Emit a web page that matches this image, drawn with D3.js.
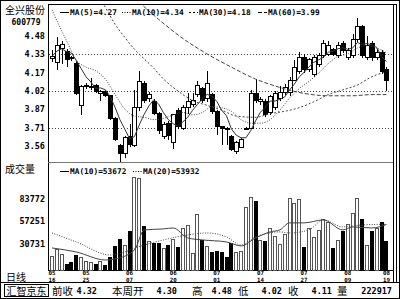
<!DOCTYPE html>
<html>
<head>
<meta charset="utf-8">
<style>
body { margin: 0; background: #fff; }
svg text { font-family: "DejaVu Sans Mono", monospace; font-weight: bold; fill: #000; }
svg text.cjk { font-family: "Noto Sans CJK SC", sans-serif; font-weight: normal; }
</style>
</head>
<body>
<svg width="400" height="299"></svg>
<script src="https://d3js.org/d3.v7.min.js"></script>
<script>
// trading days shown (2005)
var dates = ["05-16","05-17","05-18","05-19","05-20","05-23","05-24","05-25","05-26","05-27","05-30","05-31",
  "06-01","06-02","06-03","06-06","06-07","06-08","06-09","06-10","06-13","06-14","06-15","06-16","06-17",
  "06-20","06-21","06-22","06-23","06-24","06-27","06-28","06-29","06-30",
  "07-01","07-04","07-05","07-06","07-07","07-08","07-11","07-12","07-13","07-14","07-15","07-18","07-19",
  "07-20","07-21","07-22","07-25","07-26","07-27","07-28","07-29",
  "08-01","08-02","08-03","08-04","08-05","08-08","08-09","08-10","08-11","08-12","08-15","08-16","08-17","08-18","08-19"];
var tickDates = ["05-16","05-25","06-07","06-20","07-01","07-14","07-27","08-09","08-19"];

var opens = [4.29,4.26,4.38,4.35,4.30,4.25,3.90,4.06,4.05,4.07,4.00,4.02,3.98,3.79,3.56,3.50,3.64,3.56,3.88,4.08,
  3.96,3.93,3.83,3.64,3.75,3.59,3.86,3.71,3.88,3.91,3.99,4.04,3.96,3.99,3.85,3.72,3.71,3.64,3.51,3.55,
  3.70,3.71,4.00,3.93,3.93,3.84,3.88,3.96,4.01,4.01,4.11,4.18,4.30,4.20,4.16,4.24,4.32,4.33,4.37,4.32,
  4.42,4.30,4.32,4.45,4.56,4.30,4.42,4.30,4.34,4.20];
var highs = [4.36,4.47,4.44,4.37,4.31,4.27,4.07,4.09,4.13,4.08,4.03,4.03,3.99,3.80,3.58,3.64,3.74,4.03,4.19,4.10,
  4.01,3.95,3.84,3.76,3.77,3.83,3.88,3.90,4.00,4.00,4.10,4.05,4.19,4.00,3.86,3.73,3.72,3.65,3.60,3.63,
  3.72,4.03,4.12,3.97,3.95,3.99,4.02,4.06,4.08,4.14,4.28,4.35,4.33,4.30,4.32,4.34,4.45,4.44,4.38,4.43,
  4.44,4.38,4.50,4.63,4.57,4.48,4.44,4.37,4.36,4.22];
var lows = [4.26,4.20,4.25,4.22,4.27,3.99,3.82,4.04,4.03,4.00,3.94,3.97,3.78,3.60,3.42,3.46,3.55,3.55,3.85,3.92,
  3.93,3.82,3.66,3.62,3.61,3.53,3.70,3.69,3.83,3.89,3.97,3.92,3.93,3.83,3.65,3.57,3.57,3.52,3.49,3.54,
  3.69,3.70,3.92,3.90,3.80,3.82,3.86,3.94,3.99,3.98,4.10,4.16,4.17,4.18,4.14,4.22,4.30,4.31,4.31,4.30,
  4.34,4.28,4.30,4.43,4.30,4.28,4.27,4.28,4.16,4.02];
var closes = [4.31,4.40,4.41,4.28,4.29,4.00,4.06,4.07,4.06,4.02,4.02,3.98,3.79,3.61,3.50,3.63,3.57,3.88,4.10,3.94,
  3.99,3.83,3.69,3.74,3.65,3.82,3.72,3.88,3.93,3.94,4.07,3.94,4.08,3.85,3.72,3.71,3.70,3.53,3.59,3.61,
  3.71,4.00,3.94,3.95,3.82,3.97,4.00,4.01,4.05,4.11,4.22,4.30,4.20,4.28,4.30,4.32,4.42,4.40,4.33,4.40,
  4.36,4.36,4.45,4.56,4.32,4.40,4.30,4.34,4.18,4.11];
var volumes = [16500,24800,18900,7100,9500,17700,15400,10600,9500,7100,10600,5900,15400,28400,36600,29500,46100,110000,108700,52000,
  34300,31900,31900,26000,29500,36600,27200,49600,53200,20100,66200,35500,28400,21300,22500,21300,15400,31900,21300,22500,
  74500,86300,81600,35500,34300,49600,40000,30700,42500,85100,79200,83900,27200,49600,39000,47300,60300,56700,26000,35500,
  46100,54400,67400,85100,60300,29500,46100,49600,56700,34300];

// moving-average lines: [bar index, value]
var ma10Pts = [[0,4.70],[1,4.61],[3,4.44],[5,4.28],[7,4.22],[9,4.19],[11,4.12],[13,3.99],[15,3.87],[17,3.81],[19,3.80],
  [21,3.78],[23,3.79],[25,3.82],[27,3.84],[29,3.82],[31,3.84],[33,3.89],[35,3.88],[37,3.85],[39,3.78],[41,3.75],
  [43,3.75],[45,3.78],[47,3.86],[49,3.96],[51,4.04],[53,4.10],[55,4.17],[57,4.25],[59,4.31],[61,4.33],[63,4.38],
  [65,4.40],[67,4.38],[69,4.34]];
var ma30Pts = [[9,4.85],[11,4.72],[13,4.58],[15,4.47],[17,4.37],[19,4.29],[21,4.21],[23,4.12],[25,4.05],[27,3.99],
  [29,3.94],[32,3.90],[35,3.86],[38,3.81],[42,3.80],[45,3.83],[48,3.85],[51,3.88],[54,3.93],[57,3.99],[60,4.03],
  [63,4.07],[66,4.14],[69,4.18]];
var ma60Pts = [[17,4.80],[22,4.62],[27,4.46],[32,4.33],[37,4.22],[42,4.12],[47,4.05],[52,4.00],[57,3.98],[62,3.98],
  [66,3.99],[69,3.99]];
var volMa10Pts = [[0,26000],[5,21300],[11,11800],[13,13000],[17,23600],[19,47300],[23,48500],[25,49600],[28,37800],
  [31,35500],[36,33100],[39,28400],[42,37800],[45,44900],[47,47300],[49,55600],[52,55600],[56,59100],[60,47300],
  [62,50800],[66,49600],[69,53672]];
var volMa20Pts = [[0,43700],[5,33100],[12,17700],[19,29500],[23,35500],[28,41400],[32,43700],[36,39000],[39,29500],
  [42,39000],[47,44900],[49,43700],[53,47300],[56,59100],[60,50800],[64,53200],[69,53932]];

var priceTicks = [4.48,4.33,4.17,4.02,3.87,3.71,3.56];
var priceGrid = [4.33,4.02,3.71];
var volTicks = [83772,57251,30731];

var maLegend = [["MA(5)=4.27","none"],["MA(10)=4.34","1,1.5"],["MA(30)=4.18","2,2"],["MA(60)=3.99","4,2"]];
var volLegend = [["MA(10)=53672","none"],["MA(20)=53932","1,1.5"]];
var footer = [["前收","4.32"],["本周开","4.30"],["高","4.48"],["低","4.02"],["收","4.11"],["量","222917"]];

var svg = d3.select("svg");
var L = 48, R = 393, PT = 4, PB = 162, VB = 270;

var x = d3.scaleBand().domain(dates).range([49, 389.5]).padding(0.25);
var cx = function(i) { return x(dates[i]) + x.bandwidth() / 2; };
var yP = d3.scaleLinear().domain([3.71, 4.33]).range([128, 54]);
var yV = d3.scaleLinear().domain([0, 83772]).range([VB, 199]);

svg.append("defs").append("clipPath").attr("id", "pclip")
  .append("rect").attr("x", L + 1).attr("y", PT + 1).attr("width", R - L - 1).attr("height", PB - PT - 1);

// frame
var frame = svg.append("g").attr("fill", "none").attr("stroke", "#000").attr("shape-rendering", "crispEdges");
frame.append("rect").attr("x", 0.5).attr("y", 0.5).attr("width", 399).attr("height", 298);
frame.append("line").attr("x1", L + 0.5).attr("x2", L + 0.5).attr("y1", PT).attr("y2", VB);
frame.append("line").attr("x1", L).attr("x2", R + 3).attr("y1", PT + 0.5).attr("y2", PT + 0.5);
frame.append("line").attr("x1", L).attr("x2", R).attr("y1", PB + 0.5).attr("y2", PB + 0.5).attr("stroke", "#777");
frame.append("line").attr("x1", R + 0.5).attr("x2", R + 0.5).attr("y1", PT).attr("y2", 282);
frame.append("line").attr("x1", R + 3.5).attr("x2", R + 3.5).attr("y1", PT).attr("y2", 282);
frame.append("line").attr("x1", L).attr("x2", R).attr("y1", VB + 0.5).attr("y2", VB + 0.5);
frame.append("line").attr("x1", 0).attr("x2", 400).attr("y1", 282.5).attr("y2", 282.5);

// price grid + labels
svg.append("g").selectAll("line").data(priceGrid).join("line")
  .attr("x1", L + 1).attr("x2", R).attr("y1", d => Math.round(yP(d)) + 0.5).attr("y2", d => Math.round(yP(d)) + 0.5)
  .attr("stroke", "#444").attr("stroke-dasharray", "1,2");
svg.append("g").selectAll("text").data(priceTicks).join("text")
  .attr("x", 45).attr("y", d => yP(d) + 3).attr("text-anchor", "end").attr("font-size", 8.5)
  .text(d => d.toFixed(2));

// candles
var pc = svg.append("g").attr("clip-path", "url(#pclip)").attr("shape-rendering", "crispEdges");
var idx = d3.range(dates.length);
pc.selectAll("line.wick").data(idx).join("line").attr("class", "wick")
  .attr("x1", i => Math.round(cx(i)) + 0.5).attr("x2", i => Math.round(cx(i)) + 0.5)
  .attr("y1", i => yP(highs[i])).attr("y2", i => yP(lows[i])).attr("stroke", "#000");
pc.selectAll("rect").data(idx).join("rect")
  .attr("x", i => Math.round(cx(i)) - 1.5).attr("width", 4)
  .attr("y", i => yP(Math.max(opens[i], closes[i])))
  .attr("height", i => Math.max(1, Math.abs(yP(opens[i]) - yP(closes[i]))))
  .attr("fill", i => closes[i] >= opens[i] ? "#fff" : "#000")
  .attr("stroke", "#000");

// price MA lines
var ma5 = idx.map(i => d3.mean(closes.slice(Math.max(0, i - 4), i + 1)));
var pl = svg.append("g").attr("clip-path", "url(#pclip)").attr("fill", "none");
var lineP = d3.line().x(d => cx(d[0])).y(d => yP(d[1])).curve(d3.curveMonotoneX);
pl.append("path").attr("d", d3.line().x((d, i) => cx(i)).y(d => yP(d))(ma5)).attr("stroke", "#333");
pl.append("path").attr("d", lineP(ma10Pts)).attr("stroke", "#444").attr("stroke-dasharray", "1,1.5");
pl.append("path").attr("d", lineP(ma30Pts)).attr("stroke", "#444").attr("stroke-dasharray", "2,2");
pl.append("path").attr("d", lineP(ma60Pts)).attr("stroke", "#444").attr("stroke-dasharray", "4,2");

// volume bars
var vg = svg.append("g").attr("shape-rendering", "crispEdges");
vg.selectAll("rect").data(idx).join("rect")
  .attr("x", i => Math.round(cx(i)) - 1.5).attr("width", 3)
  .attr("y", i => Math.round(yV(volumes[i])) + 0.5)
  .attr("height", i => VB - Math.round(yV(volumes[i])))
  .attr("fill", i => closes[i] >= opens[i] ? "#fff" : "#000")
  .attr("stroke", i => closes[i] >= opens[i] ? "#555" : "#000");
var lineV = d3.line().x(d => cx(d[0])).y(d => yV(d[1])).curve(d3.curveMonotoneX);
svg.append("path").attr("d", lineV(volMa10Pts)).attr("fill", "none").attr("stroke", "#444");
svg.append("path").attr("d", lineV(volMa20Pts)).attr("fill", "none").attr("stroke", "#444").attr("stroke-dasharray", "1,1.5");
svg.append("g").selectAll("text").data(volTicks).join("text")
  .attr("x", 45).attr("y", d => yV(d) + 3).attr("text-anchor", "end").attr("font-size", 8.5).text(d => d);

// legends
function legend(items, y, starts) {
  var g = svg.append("g");
  items.forEach(function(it, k) {
    var x0 = starts[k];
    g.append("line").attr("x1", x0).attr("x2", x0 + 9).attr("y1", y - 2.5).attr("y2", y - 2.5)
      .attr("stroke", "#000").attr("stroke-dasharray", it[1] === "none" ? null : it[1]);
    g.append("text").attr("x", x0 + 10).attr("y", y).attr("font-size", 7.8).text(it[0]);
  });
}
legend(maLegend, 15, [60, 122, 189, 258]);
legend(volLegend, 174, [60, 133]);

svg.append("text").attr("class", "cjk").attr("x", 5).attr("y", 14).attr("font-size", 10).text("全兴股份");
svg.append("text").attr("x", 26).attr("y", 25).attr("text-anchor", "middle").attr("font-size", 8).text("600779");
svg.append("text").attr("class", "cjk").attr("x", 5).attr("y", 173).attr("font-size", 10).text("成交量");
svg.append("text").attr("class", "cjk").attr("x", 6).attr("y", 281).attr("font-size", 10).text("日线");

// date ticks: month over day
var dg = svg.append("g").selectAll("g").data(tickDates).join("g")
  .attr("transform", d => "translate(" + (x(d) + x.bandwidth() / 2) + ",0)");
dg.append("text").attr("y", 275).attr("text-anchor", "middle").attr("font-size", 5.8).text(d => d.slice(0, 2));
dg.append("text").attr("y", 282).attr("text-anchor", "middle").attr("font-size", 5.8).text(d => d.slice(3));

// footer
svg.append("rect").attr("x", 4.5).attr("y", 284.5).attr("width", 44).attr("height", 12)
  .attr("fill", "none").attr("stroke", "#000").attr("shape-rendering", "crispEdges");
svg.append("text").attr("class", "cjk").attr("x", 26.5).attr("y", 294.5).attr("text-anchor", "middle")
  .attr("font-size", 10).text("汇智京东");
var labelX = [52, 112, 192, 238, 288, 337];
var valueX = [97, 177, 232, 282, 332, 392];
footer.forEach(function(f, k) {
  svg.append("text").attr("class", "cjk").attr("x", labelX[k]).attr("y", 295).attr("font-size", 10.5)
    .attr("fill", k < 2 ? "#000" : "#444").text(f[0]);
  svg.append("text").attr("x", valueX[k]).attr("y", 294).attr("text-anchor", "end").attr("font-size", 8.5).text(f[1]);
});
</script>
</body>
</html>
